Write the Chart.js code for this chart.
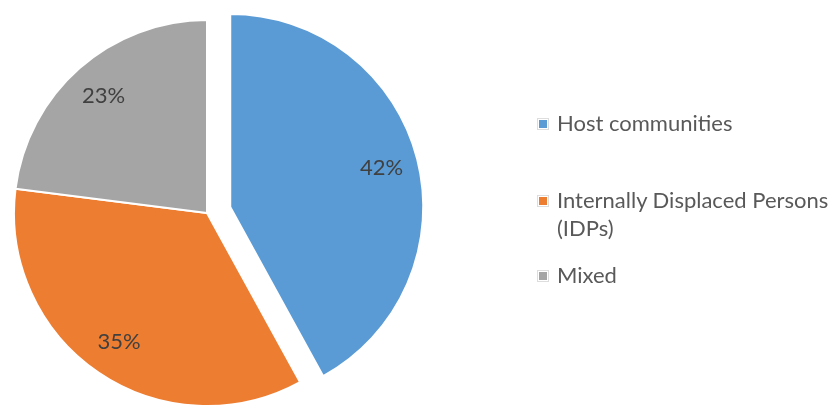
<!DOCTYPE html>
<html>
<head>
<meta charset="utf-8">
<script src="https://cdn.jsdelivr.net/npm/chart.js@4.4.0/dist/chart.umd.min.js"></script>
<style>
  body { margin: 0; background: #fff; }
  #wrap { position: relative; width: 837px; height: 409px; }
  #legend { position: absolute; left: 537px; top: 0; width: 300px; font-family: Lato, "Liberation Sans", sans-serif; font-size: 22px; color: #595959; }
  .item { position: absolute; left: 0; width: 300px; line-height: 28px; padding-left: 20px; box-sizing: border-box; }
  .key { position: absolute; left: 1px; top: 10px; width: 8px; height: 8px; outline: 1px solid #ddd; border: 1px solid #fff; }
</style>
</head>
<body>
<div id="wrap">
  <canvas id="myChart" width="837" height="409"></canvas>
  <div id="legend"></div>
</div>
<script>
var labels = ['Host communities', 'Internally Displaced Persons (IDPs)', 'Mixed'];
var values = [42, 35, 23];
var colors = ['#5B9BD5', '#ED7D31', '#A5A5A5'];
var explode = [24, 0, 0];   // pixels the slice is pulled out
var legendTops = [109, 186, 261];

var ctx = document.getElementById('myChart');

// pull exploded slices out along their middle angle
var explodePlugin = {
    id: 'explode',
    afterDatasetUpdate: function(chart, args) {
        var meta = chart.getDatasetMeta(args.index);
        meta.data.forEach(function(arc, i) {
            if (!explode[i]) return;
            var mid = (arc.startAngle + arc.endAngle) / 2;
            arc.x += Math.cos(mid) * explode[i];
            arc.y += Math.sin(mid) * explode[i];
        });
    }
};

// percent labels inside the slices
var pctPlugin = {
    id: 'pct',
    afterDatasetsDraw: function(chart) {
        var c = chart.ctx;
        var meta = chart.getDatasetMeta(0);
        c.save();
        c.font = '22px Lato, "Liberation Sans", sans-serif';
        c.fillStyle = '#404040';
        c.textAlign = 'center';
        c.textBaseline = 'middle';
        meta.data.forEach(function(arc, i) {
            var mid = (arc.startAngle + arc.endAngle) / 2;
            var r = arc.outerRadius * 0.81;
            c.fillText(values[i] + '%', arc.x + Math.cos(mid) * r, arc.y + Math.sin(mid) * r);
        });
        c.restore();
    }
};

var myChart = new Chart(ctx, {
    type: 'pie',
    data: {
        labels: labels,
        datasets: [{
            data: values,
            backgroundColor: colors,
            borderColor: '#ffffff',
            borderWidth: 2
        }]
    },
    options: {
        responsive: false,
        animation: false,
        layout: {
            padding: { left: 13, right: 436, top: 19, bottom: 2 }
        },
        plugins: {
            legend: { display: false },
            tooltip: { enabled: false }
        }
    },
    plugins: [explodePlugin, pctPlugin]
});

// legend
var legend = document.getElementById('legend');
for (let i = 0; i < labels.length; i++) {
    let item = document.createElement('div');
    item.className = 'item';
    item.style.top = legendTops[i] + 'px';
    let key = document.createElement('span');
    key.className = 'key';
    key.style.background = colors[i];
    item.appendChild(key);
    item.appendChild(document.createTextNode(labels[i]));
    legend.appendChild(item);
}
</script>
</body>
</html>
